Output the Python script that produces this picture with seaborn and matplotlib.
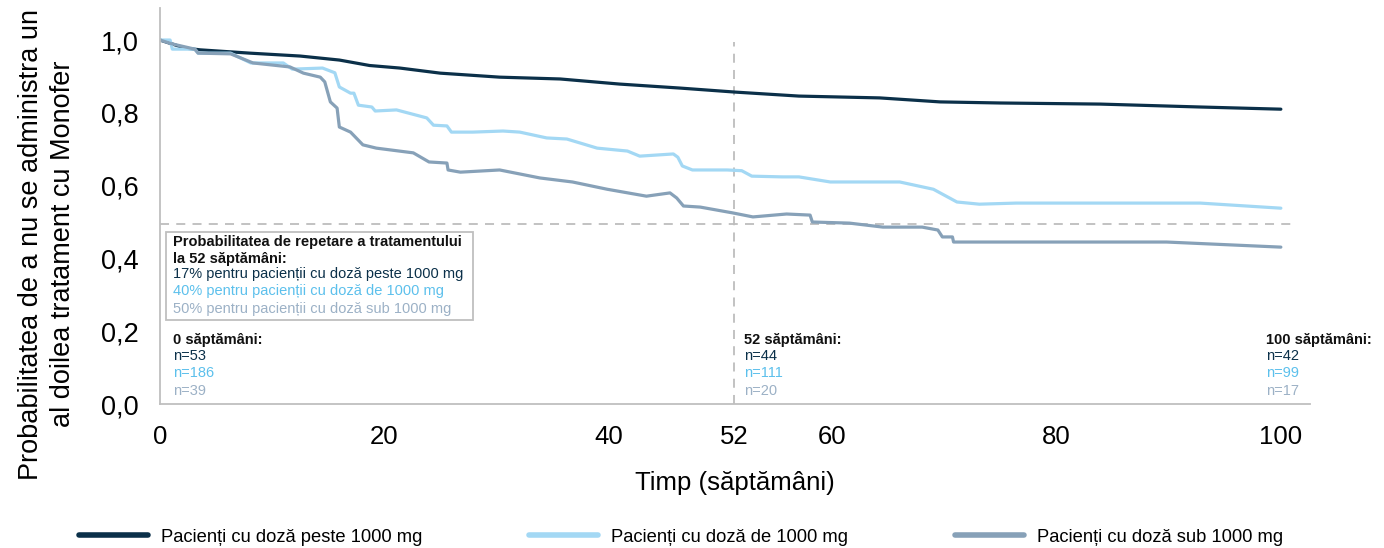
import matplotlib
matplotlib.use("Agg")
import matplotlib.pyplot as plt
import seaborn as sns
import pandas as pd
from matplotlib.patches import Rectangle

# ---------------- data ----------------
series_names = ["Pacienți cu doză peste 1000 mg",
                "Pacienți cu doză de 1000 mg",
                "Pacienți cu doză sub 1000 mg"]

dark_x = [0, 1, 2.2, 3.6, 8, 12.5, 16, 18.7, 21.4, 25, 30.3, 35.7, 41, 46.4,
          51.3, 57, 64.2, 69.6, 75, 83.9, 92.8, 100]
dark_y = [1.0, 0.99, 0.978, 0.973, 0.964, 0.956, 0.945, 0.93, 0.923, 0.909,
          0.898, 0.893, 0.879, 0.868, 0.857, 0.846, 0.841, 0.830, 0.827,
          0.824, 0.816, 0.810]

light_x = [0, 0.9, 1.1, 3.1, 3.4, 6.3, 8.1, 11.0, 11.8, 14.5, 15.6, 16.0,
           17.0, 17.3, 17.7, 18.9, 19.2, 21.1, 23.8, 24.4, 25.6, 26.0, 27.9,
           30.6, 32.1, 34.5, 36.3, 39.0, 41.7, 42.8, 45.8, 46.2, 46.6, 47.5,
           50.6, 51.9, 52.8, 55.5, 57.0, 59.8, 66.0, 69.0, 71.1, 73.1, 76.4,
           92.8, 100]
light_y = [1.0, 1.0, 0.975, 0.975, 0.964, 0.964, 0.937, 0.937, 0.92, 0.923,
           0.91, 0.871, 0.854, 0.854, 0.821, 0.816, 0.805, 0.808, 0.786,
           0.766, 0.764, 0.747, 0.747, 0.75, 0.747, 0.731, 0.728, 0.703,
           0.695, 0.681, 0.687, 0.678, 0.654, 0.643, 0.643, 0.641, 0.626,
           0.624, 0.624, 0.610, 0.610, 0.59, 0.555, 0.549, 0.552, 0.552, 0.538]

gray_x = [0, 1.0, 3.1, 3.4, 6.3, 8.3, 11.6, 12.8, 14.3, 14.7, 15.2, 15.8,
          16.0, 17.0, 18.1, 19.3, 22.6, 24.0, 25.6, 25.7, 26.8, 30.3, 33.9,
          36.8, 39.9, 43.4, 45.5, 46.1, 46.7, 48.2, 51.1, 52.9, 55.9, 58.0,
          58.2, 61.5, 64.5, 68.0, 69.4, 69.8, 70.7, 70.8, 89.8, 100]
gray_y = [1.0, 0.99, 0.975, 0.964, 0.962, 0.937, 0.926, 0.909, 0.898, 0.885,
          0.83, 0.813, 0.761, 0.747, 0.712, 0.703, 0.69, 0.665, 0.662, 0.643,
          0.637, 0.643, 0.621, 0.610, 0.59, 0.571, 0.58, 0.566, 0.544, 0.541,
          0.525, 0.514, 0.522, 0.519, 0.5, 0.497, 0.486, 0.486, 0.478, 0.459,
          0.459, 0.445, 0.445, 0.431]

x_ticks = [0, 20, 40, 51.2, 60, 80, 100]
x_tick_labels = ["0", "20", "40", "52", "60", "80", "100"]
y_ticks = [0.0, 0.2, 0.4, 0.6, 0.8, 1.0]
y_tick_labels = ["0,0", "0,2", "0,4", "0,6", "0,8", "1,0"]

ref_week_pos = 51.2   # where the chart draws its "52" marker
ref_prob = 0.495

box_title = "Probabilitatea de repetare a tratamentului\nla 52 săptămâni:"
box_lines = ["17% pentru pacienții cu doză peste 1000 mg",
             "40% pentru pacienții cu doză de 1000 mg",
             "50% pentru pacienții cu doză sub 1000 mg"]

risk_pos = [1.15, 52.1, 98.65]
risk_titles = ["0 săptămâni:", "52 săptămâni:", "100 săptămâni:"]
risk_n = [[53, 186, 39], [44, 111, 20], [42, 99, 17]]

# ---------------- style ----------------
line_colors = ["#0b3049", "#a3d8f4", "#87a1b8"]
text_colors = ["#0b3049", "#5cc0ec", "#9cb1c6"]

sns.set_style("white")
plt.rcParams["font.family"] = ["Liberation Sans", "DejaVu Sans"]
plt.rcParams["text.color"] = "black"
plt.rcParams["axes.labelcolor"] = "black"
plt.rcParams["xtick.color"] = "black"
plt.rcParams["ytick.color"] = "black"

df = pd.concat([
    pd.DataFrame({"x": dark_x, "y": dark_y, "grp": series_names[0]}),
    pd.DataFrame({"x": light_x, "y": light_y, "grp": series_names[1]}),
    pd.DataFrame({"x": gray_x, "y": gray_y, "grp": series_names[2]}),
], ignore_index=True)

fig = plt.figure(figsize=(13.84, 5.48), dpi=100)
ax = fig.add_axes([160 / 1384, 1 - 404 / 548, (1310 - 160) / 1384, (404 - 8) / 548])

sns.lineplot(data=df, x="x", y="y", hue="grp", hue_order=series_names,
             palette=line_colors, estimator=None, linewidth=2.3, ax=ax)

ax.set_xlim(0, 102.6)
ax.set_ylim(0, 1.088)

# reference dashed lines
ax.plot([ref_week_pos, ref_week_pos], [0, 0.995], ls=(0, (5, 4)), color="#bdbdbd", lw=1.3, zorder=1)
ax.plot([0, 101.4], [ref_prob, ref_prob], ls=(0, (5, 4)), color="#bdbdbd", lw=1.3, zorder=1)

ax.set_xticks(x_ticks)
ax.set_xticklabels(x_tick_labels, fontsize=18.5)
ax.set_yticks(y_ticks)
ax.set_yticklabels(y_tick_labels, fontsize=19.5)
ax.tick_params(axis="both", length=0, labelcolor="black")
ax.tick_params(axis="y", pad=15.5)
ax.tick_params(axis="x", pad=15)

for s in ["top", "right"]:
    ax.spines[s].set_visible(False)
for s in ["left", "bottom"]:
    ax.spines[s].set_color("#bfbfbf")
    ax.spines[s].set_linewidth(1.3)

ax.set_xlabel("Timp (săptămâni)", fontsize=18.5, labelpad=16, color="black")
ax.set_ylabel("Probabilitatea de a nu se administra un\nal doilea tratament cu Monofer",
              fontsize=19.5, linespacing=1.3, color="black")
ax.yaxis.set_label_coords(-0.073, 0.404)

# annotation box
ax.add_patch(Rectangle((0.54, 0.231), 27.4, 0.242, fill=False,
                       edgecolor="#bfbfbf", lw=1.3, zorder=3))
ax.text(1.15, 0.463, box_title, fontsize=10.5, fontweight="bold",
        va="top", ha="left", color="#111111", linespacing=1.25)
for i, (t, c) in enumerate(zip(box_lines, text_colors)):
    ax.text(1.15, 0.358 - i * 0.048, t, fontsize=10.5, va="center",
            ha="left", color=c)

# numbers at risk
for xx, title, ns in zip(risk_pos, risk_titles, risk_n):
    ax.text(xx, 0.177, title, fontsize=10.5, fontweight="bold",
            va="center", ha="left", color="#111111")
    for j, (n, c) in enumerate(zip(ns, text_colors)):
        ax.text(xx, 0.132 - j * 0.048, f"n={n}", fontsize=10.5,
                va="center", ha="left", color=c)

# legend
handles, labels = ax.get_legend_handles_labels()
ax.get_legend().remove()
leg = fig.legend(handles, labels, loc="center", bbox_to_anchor=(0.492, 1 - 537 / 548),
                 ncol=3, frameon=False, fontsize=13.2, handlelength=3.8,
                 handletextpad=0.7, columnspacing=5.8)
for h in leg.get_lines():
    h.set_linewidth(4)
for t in leg.get_texts():
    t.set_color("black")

fig.savefig("out.png", dpi=100)
